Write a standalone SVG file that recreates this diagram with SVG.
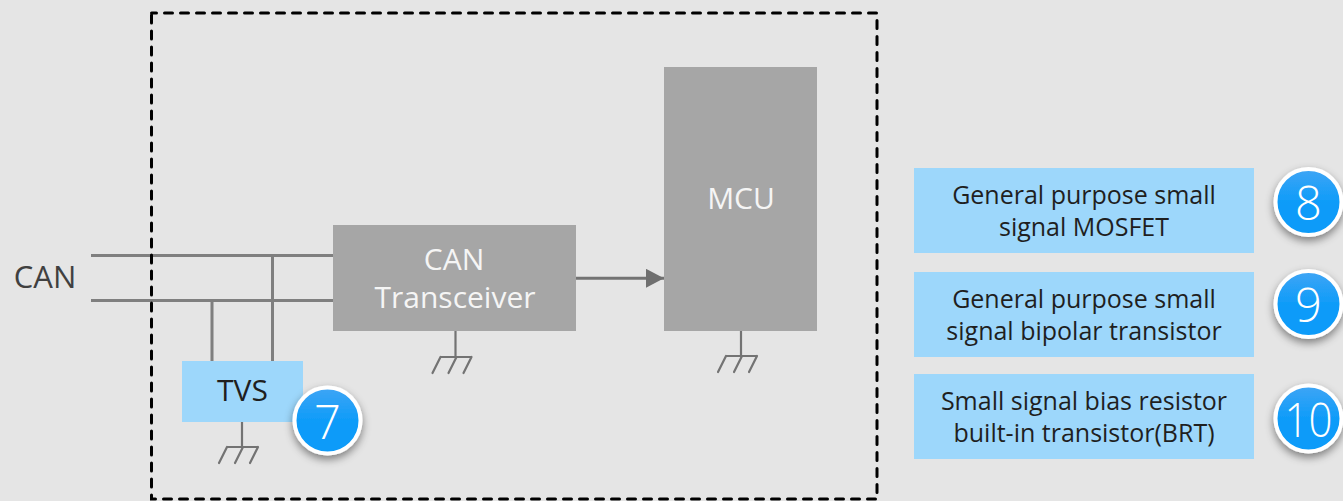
<svg xmlns="http://www.w3.org/2000/svg" width="1343" height="501" viewBox="0 0 1343 501">
<style>
text{font-family:"Open Sans","Noto Sans","Liberation Sans",sans-serif;text-anchor:middle}
.w{stroke:#7f7f7f;stroke-width:3;fill:none}
.g{stroke:#737373;stroke-width:2.2;fill:none;stroke-linecap:round}
.blue{fill:#9dd7fb}
.gray{fill:#a6a6a6}
.t{font-size:25px;fill:#1f1f1f}
.lw{font-size:30px;fill:#f5f5f5}
.n{font-size:47px;fill:#fff;font-weight:300}
.c{fill:url(#cg);stroke:#fff;stroke-width:4;filter:url(#sh)}
</style>
<defs>
<linearGradient id="cg" x1="0" y1="0" x2="0" y2="1"><stop offset="0" stop-color="#3fa5f5"/><stop offset="0.55" stop-color="#0a9bf9"/><stop offset="1" stop-color="#0a9bf9"/></linearGradient>
<filter id="sh" x="-30%" y="-30%" width="160%" height="160%"><feDropShadow dx="0" dy="4" stdDeviation="4" flood-color="#000" flood-opacity="0.45"/></filter>
<marker id="arr" markerUnits="userSpaceOnUse" markerWidth="20" markerHeight="20" refX="18" refY="9.500" orient="auto"><path d="M0,0L18,9.500L0,19Z" fill="#6f6f6f"/></marker>
<g id="gnd"><path class="g" d="M0,0V26M-15,26H16M-15,26L-23,42M1,26L-7,42M16,26L8,42"/></g>
</defs>
<rect width="1343" height="501" fill="#e5e5e5"/>
<g id="connectors">
<path class="w" d="M91,255.500H333M91,300.500H333M212,300.500V361M272.500,255.500V361"/>
<path d="M576,278.300H664" stroke="#737373" stroke-width="3" fill="none" marker-end="url(#arr)"/>
<use href="#gnd" x="242" y="421"/>
<use href="#gnd" x="455.500" y="331"/>
<use href="#gnd" x="741" y="330"/>
</g>
<rect id="boundary" x="151.500" y="13" width="725.500" height="486" fill="none" stroke="#000" stroke-width="3" stroke-dasharray="8 8" stroke-dashoffset="3" stroke-linecap="round"/>
<g id="can-label"><text x="45" y="288" font-size="31" style="fill:#404040">CAN</text></g>
<g id="tvs"><rect class="blue" x="182" y="361" width="121" height="61"/><text class="t" x="242.500" y="401" style="font-size:30px">TVS</text></g>
<g id="transceiver"><rect class="gray" x="333" y="225" width="243" height="106"/><text class="lw" x="454" y="270">CAN</text><text class="lw" x="455" y="308">Transceiver</text></g>
<g id="mcu"><rect class="gray" x="664" y="67" width="153" height="264"/><text class="lw" x="741" y="209">MCU</text></g>
<g id="badge7"><circle class="c" cx="327.500" cy="420.500" r="33"/><text class="n" x="327.500" y="439">7</text></g>
<g id="box8"><rect class="blue" x="914" y="168" width="340" height="85"/><text class="t" x="1084" y="204">General purpose small</text><text class="t" x="1084" y="236">signal MOSFET</text></g>
<g id="badge8"><circle class="c" cx="1308.500" cy="202" r="33"/><text class="n" x="1308.500" y="220">8</text></g>
<g id="box9"><rect class="blue" x="914" y="272" width="340" height="85"/><text class="t" x="1084" y="308">General purpose small</text><text class="t" x="1084" y="340">signal bipolar transistor</text></g>
<g id="badge9"><circle class="c" cx="1308.500" cy="304" r="33"/><text class="n" x="1308.500" y="322">9</text></g>
<g id="box10"><rect class="blue" x="914" y="374" width="340" height="85"/><text class="t" x="1084" y="410">Small signal bias resistor</text><text class="t" x="1084" y="442">built-in transistor(BRT)</text></g>
<g id="badge10"><circle class="c" cx="1308.500" cy="418.500" r="33"/><text class="n" x="1308.500" y="437" textLength="48" lengthAdjust="spacingAndGlyphs">10</text></g>
</svg>
